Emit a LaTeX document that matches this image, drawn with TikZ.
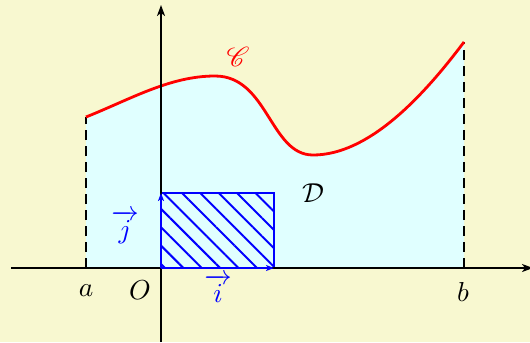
\documentclass[tikz,border=0pt]{standalone}
\usepackage{amsmath}
\usepackage{mathrsfs}
\usetikzlibrary{arrows.meta,patterns.meta}
\definecolor{bgyellow}{RGB}{248,248,208}
\definecolor{domcyan}{RGB}{224,255,255}
\tikzset{
  lbl/.style={scale=2.75, transform shape, inner sep=0pt},
  axis/.style={line width=1.7bp, -{Stealth[length=11bp,width=8bp,inset=3bp]}},
  bord/.style={dash pattern=on 10bp off 6bp, line width=2bp},
  curve/.style={red, line width=2.8bp},
  vecarrow/.style={blue, line width=2.8bp, -{Stealth[length=8bp,width=6bp,inset=2bp]}},
}
\begin{document}
\begin{tikzpicture}[x=1bp,y=-1bp]
\fill[bgyellow] (0,0) rectangle (530,342);
\useasboundingbox (0,0) rectangle (530,342);
% coordinates
\coordinate (O) at (161,268);
\coordinate (xs) at (11,268);
\coordinate (xe) at (533,268);
\coordinate (ys) at (161,342);
\coordinate (ye) at (161,5);
\coordinate (A0) at (86,268);
\coordinate (A1) at (86,117);
\coordinate (B0) at (464,268);
\coordinate (B1) at (464,42);
\coordinate (M) at (215,76);
\coordinate (N) at (313,155);
\coordinate (I) at (274,268);
\coordinate (J) at (161,193);
\coordinate (IJ) at (274,193);
% domain fill
\fill[domcyan] (A0) -- (A1) .. controls (131,99) and (170,76) .. (M)
  .. controls (268,76) and (270,155) .. (N)
  .. controls (368,155) and (422,98) .. (B1) -- (B0) -- cycle;
% hatched rectangle
\fill[pattern={Lines[angle=-45,distance=13bp,line width=2bp]}, pattern color=blue] (O) rectangle (IJ);
\draw[blue, line width=2.8bp] (J) -- (IJ) -- (I);
% dashed borders
\draw[bord] (A0) -- (A1);
\draw[bord] (B0) -- (B1);
% curve
\draw[curve] (A1) .. controls (131,99) and (170,76) .. (M)
  .. controls (268,76) and (270,155) .. (N)
  .. controls (368,155) and (422,98) .. (B1);
% axes
\draw[axis] (xs) -- (xe);
\draw[axis] (ys) -- (ye);
% unit vectors
\draw[vecarrow] (O) -- (I);
\draw[vecarrow] (O) -- (J);
% labels
\node[lbl] (la) at (86,291) {$a$};
\node[lbl] (lO) at (140,290) {$O$};
\node[lbl] (lb) at (463,292) {$b$};
\node[lbl, blue] (li) at (218,288) {$\overrightarrow{i}$};
\node[lbl, blue] (lj) at (125,227) {$\overrightarrow{j}$};
\node[lbl] (lD) at (313,193) {$\mathcal{D}$};
\node[lbl, red] (lC) at (238,57) {$\mathscr{C}$};
\end{tikzpicture}
\end{document}
